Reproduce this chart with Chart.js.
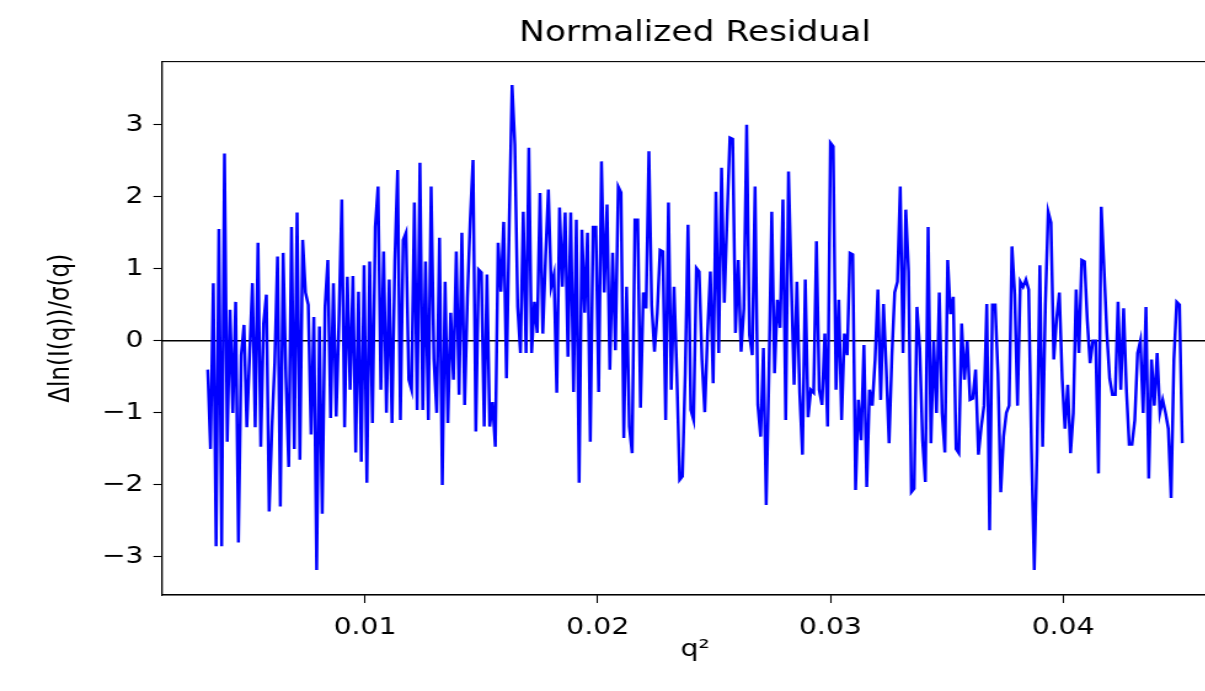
<!DOCTYPE html>
<html><head><meta charset="utf-8">
<script src="https://cdn.jsdelivr.net/npm/chart.js@4/dist/chart.umd.min.js"></script>
<style>html,body{margin:0;padding:0;background:#fff;overflow:hidden;width:1205px;height:691px}canvas{display:block}</style>
</head><body><canvas id="c" width="1130" height="691" style="width:1390px;height:691px"></canvas>
<script>
const qSquared = [
0.00324,0.00336,0.00348,0.00360,0.00372,0.00384,0.00396,0.00408,0.00420,0.00432,
0.00444,0.00456,0.00468,0.00480,0.00492,0.00504,0.00516,0.00528,0.00540,0.00552,
0.00564,0.00576,0.00588,0.00600,0.00612,0.00624,0.00636,0.00648,0.00660,0.00672,
0.00684,0.00696,0.00708,0.00720,0.00732,0.00744,0.00756,0.00768,0.00780,0.00792,
0.00804,0.00816,0.00828,0.00840,0.00852,0.00864,0.00876,0.00888,0.00900,0.00912,
0.00924,0.00936,0.00948,0.00960,0.00972,0.00984,0.00996,0.01008,0.01020,0.01032,
0.01044,0.01056,0.01068,0.01080,0.01092,0.01104,0.01116,0.01128,0.01140,0.01152,
0.01164,0.01176,0.01188,0.01200,0.01212,0.01224,0.01236,0.01248,0.01260,0.01272,
0.01284,0.01296,0.01308,0.01320,0.01332,0.01344,0.01356,0.01368,0.01380,0.01392,
0.01404,0.01416,0.01428,0.01440,0.01452,0.01464,0.01476,0.01488,0.01500,0.01512,
0.01524,0.01536,0.01548,0.01560,0.01572,0.01584,0.01596,0.01608,0.01620,0.01632,
0.01644,0.01656,0.01668,0.01680,0.01692,0.01704,0.01716,0.01728,0.01740,0.01752,
0.01764,0.01776,0.01788,0.01800,0.01812,0.01824,0.01836,0.01848,0.01860,0.01872,
0.01884,0.01896,0.01908,0.01920,0.01932,0.01944,0.01956,0.01968,0.01980,0.01992,
0.02004,0.02016,0.02028,0.02040,0.02052,0.02064,0.02076,0.02088,0.02100,0.02112,
0.02124,0.02136,0.02148,0.02160,0.02172,0.02184,0.02196,0.02208,0.02220,0.02232,
0.02244,0.02256,0.02268,0.02280,0.02292,0.02304,0.02316,0.02328,0.02340,0.02352,
0.02364,0.02376,0.02388,0.02400,0.02412,0.02424,0.02436,0.02448,0.02460,0.02472,
0.02484,0.02496,0.02508,0.02520,0.02532,0.02544,0.02556,0.02568,0.02580,0.02592,
0.02604,0.02616,0.02628,0.02640,0.02652,0.02664,0.02676,0.02688,0.02700,0.02712,
0.02724,0.02736,0.02748,0.02760,0.02772,0.02784,0.02796,0.02808,0.02820,0.02832,
0.02844,0.02856,0.02868,0.02880,0.02892,0.02904,0.02916,0.02928,0.02940,0.02952,
0.02964,0.02976,0.02988,0.03000,0.03012,0.03024,0.03036,0.03048,0.03060,0.03072,
0.03084,0.03096,0.03108,0.03120,0.03132,0.03144,0.03156,0.03168,0.03180,0.03192,
0.03204,0.03216,0.03228,0.03240,0.03252,0.03264,0.03276,0.03288,0.03300,0.03312,
0.03324,0.03336,0.03348,0.03360,0.03372,0.03384,0.03396,0.03408,0.03420,0.03432,
0.03444,0.03456,0.03468,0.03480,0.03492,0.03504,0.03516,0.03528,0.03540,0.03552,
0.03564,0.03576,0.03588,0.03600,0.03612,0.03624,0.03636,0.03648,0.03660,0.03672,
0.03684,0.03696,0.03708,0.03720,0.03732,0.03744,0.03756,0.03768,0.03780,0.03792,
0.03804,0.03816,0.03828,0.03840,0.03852,0.03864,0.03876,0.03888,0.03900,0.03912,
0.03924,0.03936,0.03948,0.03960,0.03972,0.03984,0.03996,0.04008,0.04020,0.04032,
0.04044,0.04056,0.04068,0.04080,0.04092,0.04104,0.04116,0.04128,0.04140,0.04152,
0.04164,0.04176,0.04188,0.04200,0.04212,0.04224,0.04236,0.04248,0.04260,0.04272,
0.04284,0.04296,0.04308,0.04320,0.04332,0.04344,0.04356,0.04368,0.04380,0.04392,
0.04404,0.04416,0.04428,0.04440,0.04452,0.04464,0.04476,0.04488,0.04500,0.04512
];
const residual = [
-0.4,-1.5,0.8,-2.85,1.55,-2.85,2.6,-1.4,0.43,-1.0,0.54,-2.8,-0.2,0.22,-1.2,-0.2,0.8,-1.2,1.36,-1.47,0.24,0.64,-2.37,-1.2,-0.3,1.17,-2.3,
1.22,-0.5,-1.75,1.58,-1.5,1.78,-1.65,1.4,0.67,0.5,-1.3,0.33,-3.18,0.2,-2.4,0.47,1.12,-1.07,0.8,-1.05,0.3,1.96,-1.2,0.89,-0.68,0.9,-1.55,0.68,-1.68,
1.05,-1.97,1.1,-1.14,1.58,2.14,-0.68,1.24,-1.0,0.85,-1.14,1.1,2.37,-1.1,1.4,1.5,-0.54,-0.68,1.92,-0.96,2.47,-0.96,1.1,-1.1,2.14,-0.26,-1.0,1.43,-2.0,0.82,
-1.14,0.39,-0.54,1.24,-0.75,1.5,-0.89,0.6,1.68,2.51,-1.26,0.99,0.95,-1.19,0.92,-1.19,-0.85,-1.47,1.36,0.68,1.65,-0.52,1.68,3.55,2.72,0.47,-0.17,1.79,-0.17,
2.68,-0.17,0.54,0.11,2.05,0.1,1.17,2.1,0.75,0.92,-0.72,1.85,0.75,1.78,-0.22,1.78,-0.71,1.68,-1.97,1.54,0.39,1.5,-1.4,1.58,1.58,-0.71,2.49,0.67,1.89,-0.4,
1.22,-0.13,2.14,2.06,-1.35,0.75,-1.19,-1.56,1.68,1.68,-0.93,0.67,0.45,2.63,0.49,-0.15,0.39,1.26,1.24,-1.1,1.92,-0.68,0.75,-0.45,-1.93,-1.88,-0.45,1.61,-0.96,
-1.1,1.01,0.96,-0.26,-0.99,0.11,0.96,-0.59,2.07,-0.17,2.4,0.53,1.72,2.82,2.8,0.11,1.12,-0.15,0.45,3.0,0.08,-0.2,2.14,-0.89,-1.33,-0.1,-2.28,-0.45,1.79,
-0.45,0.57,0.18,1.96,-1.1,2.35,0.82,-0.61,0.82,-0.72,-1.58,0.85,-1.06,-0.68,-0.72,1.38,-0.68,-0.89,0.1,-1.19,2.75,2.7,-0.68,0.57,-1.1,0.1,-0.2,1.22,1.2,-2.07,
-0.82,-1.38,-0.06,-2.03,-0.68,-0.9,-0.26,0.71,-0.82,0.51,-0.4,-1.42,-0.22,0.67,0.82,2.14,-0.17,1.82,0.96,-2.1,-2.05,0.47,-0.1,-1.38,-1.96,1.58,-1.42,0.0,-1.0,
0.67,-1.0,-1.55,1.12,0.37,0.61,-1.5,-1.56,0.24,-0.54,0.0,-0.82,-0.8,-0.4,-1.58,-1.2,-0.9,0.51,-2.63,0.5,0.5,-0.45,-2.1,-1.33,-1.0,-0.9,1.31,0.65,-0.9,
0.82,0.75,0.85,0.71,-1.5,-3.18,-1.5,1.05,-1.47,0.51,1.79,1.64,-0.26,0.3,0.67,-0.52,-1.22,-0.61,-1.56,-1.0,0.71,-0.17,1.12,1.1,0.28,-0.31,0.0,0.0,-1.84,
1.86,1.0,0.11,-0.52,-0.75,-0.75,0.54,-0.68,0.45,-0.68,-1.44,-1.44,-1.1,-0.17,0.0,-1.0,0.47,-1.91,-0.26,-0.9,-0.17,-1.0,-0.82,-1.0,-1.22,-2.18,-0.26,0.54,0.5,-1.42
];
const xTicks = [0.01, 0.02, 0.03, 0.04];
const yTicks = [-3, -2, -1, 0, 1, 2, 3];
const xRange = [0.001275, 0.047092];
const yRange = [-3.528, 3.875];
const titleText = 'Normalized Residual';
const xLabel = 'q\u00B2';
const yLabel = '\u0394ln(I(q))/\u03C3(q)';

const n = Math.min(qSquared.length, residual.length);
const points = [];
for (let i = 0; i < n; i++) points.push({x: qSquared[i], y: residual[i]});
const zeroLine = [{x: xRange[0], y: 0}, {x: xRange[1], y: 0}];

const FONT = "'DejaVu Sans', 'Liberation Sans', sans-serif";
const fmt = v => (v < 0 ? '\u2212' + Math.abs(v) : String(v));

const framePlugin = {
  id: 'frame',
  afterDatasetsDraw(chart) {
    const {ctx, chartArea: a} = chart;
    ctx.save();
    ctx.strokeStyle = '#000';
    ctx.lineWidth = 1.1;
    ctx.strokeRect(a.left, a.top, a.right - a.left, a.bottom - a.top);
    ctx.restore();
  }
};

new Chart(document.getElementById('c'), {
  type: 'line',
  data: {
    datasets: [
      {data: points, borderColor: '#0000ff', borderWidth: 2.5, pointRadius: 0, tension: 0, fill: false, xAxisID: 'x', yAxisID: 'y'},
      {data: zeroLine, borderColor: '#000000', borderWidth: 1.6, pointRadius: 0, tension: 0, fill: false, xAxisID: 'x', yAxisID: 'y'}
    ]
  },
  options: {
    responsive: false,
    animation: false,
    devicePixelRatio: 1,
    layout: {padding: {left: 0, right: 0, top: 0, bottom: 0}},
    plugins: {
      legend: {display: false},
      tooltip: {enabled: false},
      title: {
        display: true, text: titleText, color: '#000',
        font: {family: FONT, size: 28, weight: 'normal', lineHeight: 1.2},
        padding: {top: 17, bottom: 11}
      }
    },
    scales: {
      x: {
        type: 'linear', position: 'bottom', min: xRange[0], max: xRange[1],
        afterBuildTicks: s => { s.ticks = xTicks.map(v => ({value: v})); },
        afterFit: s => { s.height = 96; },
        grid: {drawOnChartArea: false, drawTicks: true, tickLength: 8, tickColor: '#000', tickWidth: 1.1},
        border: {display: true, color: '#000', width: 1.1},
        ticks: {color: '#000', font: {family: FONT, size: 23}, padding: 11, maxRotation: 0, callback: v => String(v)},
        title: {display: true, text: xLabel, color: '#000', font: {family: FONT, size: 23, lineHeight: 1.2}, padding: {top: 0, bottom: 27}}
      },
      y: {
        type: 'linear', position: 'left', min: yRange[0], max: yRange[1],
        afterBuildTicks: s => { s.ticks = yTicks.map(v => ({value: v})); },
        afterFit: s => { s.width = 131.7; },
        grid: {drawOnChartArea: false, drawTicks: true, tickLength: 7, tickColor: '#000', tickWidth: 1.1},
        border: {display: true, color: '#000', width: 1.1},
        ticks: {color: '#000', font: {family: FONT, size: 23}, padding: 8, callback: v => fmt(v)},
        title: {display: true, text: yLabel, color: '#000', font: {family: FONT, size: 23, lineHeight: 1.2}, padding: {top: 36, bottom: 0}}
      },
      yRight: {
        type: 'linear', position: 'right', min: 0, max: 1, display: true,
        afterFit: s => { s.width = 131.6; },
        grid: {display: false, drawTicks: false},
        border: {display: false},
        ticks: {display: false},
        title: {display: false}
      }
    }
  },
  plugins: [framePlugin]
});
</script>
</body></html>
